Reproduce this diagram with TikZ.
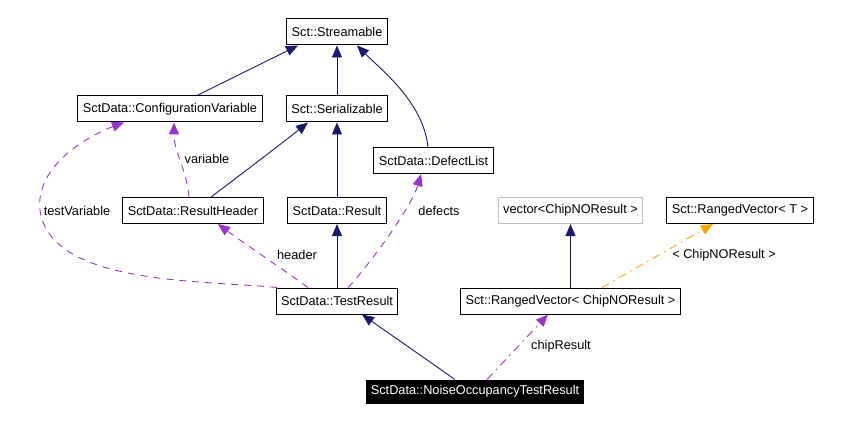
\documentclass[tikz,border=0pt]{standalone}
\usepackage{fontspec}
\setmainfont{Liberation Sans}
\usetikzlibrary{arrows.meta,shapes}
\definecolor{inhcol}{HTML}{191970}
\definecolor{usecol}{HTML}{9A32CD}
\definecolor{tplcol}{HTML}{FFA500}
\definecolor{extcol}{HTML}{BFBFBF}

\begin{document}
\begin{tikzpicture}[x=1pt, y=-1pt, font=\fontsize{12.75}{15}\selectfont,
		cls/.style={rectangle,draw,line width=1pt,inner xsep=5pt,inner ysep=0pt,minimum height=26pt},
		inh/.style={->,>={Triangle[length=12pt,width=10pt]},draw=inhcol,line width=0.9pt},
		use/.style={->,>={Triangle[length=12pt,width=10pt]},draw=usecol,line width=0.9pt,dash pattern=on 7pt off 6pt},
		usedot/.style={use,dash pattern=on 8pt off 5pt on 1.5pt off 5pt},
		tpl/.style={usedot,draw=tplcol},
		lbl/.style={inner sep=1pt}]
		\useasboundingbox (0,0) rectangle (850,422);
		\node[cls] (stream) at (337,32) {Sct::Streamable};
		\node[cls] (config) at (170,109) {SctData::ConfigurationVariable};
		\node[cls] (serial) at (337,109) {Sct::Serializable};
		\node[cls] (defect) at (433.5,160.5) {SctData::DefectList};
		\node[cls] (rheader) at (193,210.5) {SctData::ResultHeader};
		\node[cls] (result) at (337,210.5) {SctData::Result};
		\node[cls,draw=extcol] (vector) at (570.5,210.5) {vector<ChipNOResult >};
		\node[cls] (rvtmpl) at (740,210.5) {Sct::RangedVector< T >};
		\node[cls] (testres) at (337,301) {SctData::TestResult};
		\node[cls] (rvchip) at (570.5,301) {Sct::RangedVector< ChipNOResult >};
		\node[cls,fill=black,text=white,minimum height=23pt,inner xsep=4pt] (noise) at (475,391.5) {SctData::NoiseOccupancyTestResult};

		\draw[inh] ([xshift=27pt]config.north) -- ([xshift=-39pt]stream.south);
		\draw[inh] (serial) -- (stream);
		\draw[inh] ([xshift=-5.5pt]defect.north) .. controls +(-5,-45) and +(25,25) .. ([xshift=20pt]stream.south);
		\draw[inh] ([xshift=18pt]rheader.north) .. controls +(20,-15) and +(-25,20) .. ([xshift=-29pt]serial.south);
		\draw[inh] (result) -- (serial);
		\draw[inh] (testres) -- (result);
		\draw[inh] ([xshift=-20pt]noise.north) -- ([xshift=25pt]testres.south);
		\draw[inh] (rvchip) -- (vector);

		\draw[use] ([xshift=-60pt]testres.north) .. controls (200,280) and (50,285) .. (40,210) .. controls (35,165) and (90,135) .. ([xshift=-46pt]config.south);
		\draw[use] ([xshift=-4pt]rheader.north) .. controls +(-3,-30) and +(0,30) .. ([xshift=4pt]config.south);
		\draw[use] ([xshift=-29pt]testres.north) .. controls +(-25,-18) and +(20,15) .. ([xshift=25pt]rheader.south);
		\draw[use] ([xshift=11pt]testres.north) .. controls +(15,-15) and +(-10,35) .. ([xshift=-12.5pt]defect.south);
		\draw[usedot] ([xshift=12pt]noise.north) -- ([xshift=-22.5pt]rvchip.south);
		\draw[tpl] ([xshift=31.5pt]rvchip.north) -- ([xshift=-27pt]rvtmpl.south);

		\node[lbl] (ltestvar) at (77,211) {testVariable};
		\node[lbl] (lvar) at (207,159) {variable};
		\node[lbl] (lheader) at (297,255) {header};
		\node[lbl] (ldefects) at (439,211) {defects};
		\node[lbl] (lchip) at (561,346) {chipResult};
		\node[lbl] (ltpl) at (724,255) {< ChipNOResult >};
\end{tikzpicture}
\end{document}
